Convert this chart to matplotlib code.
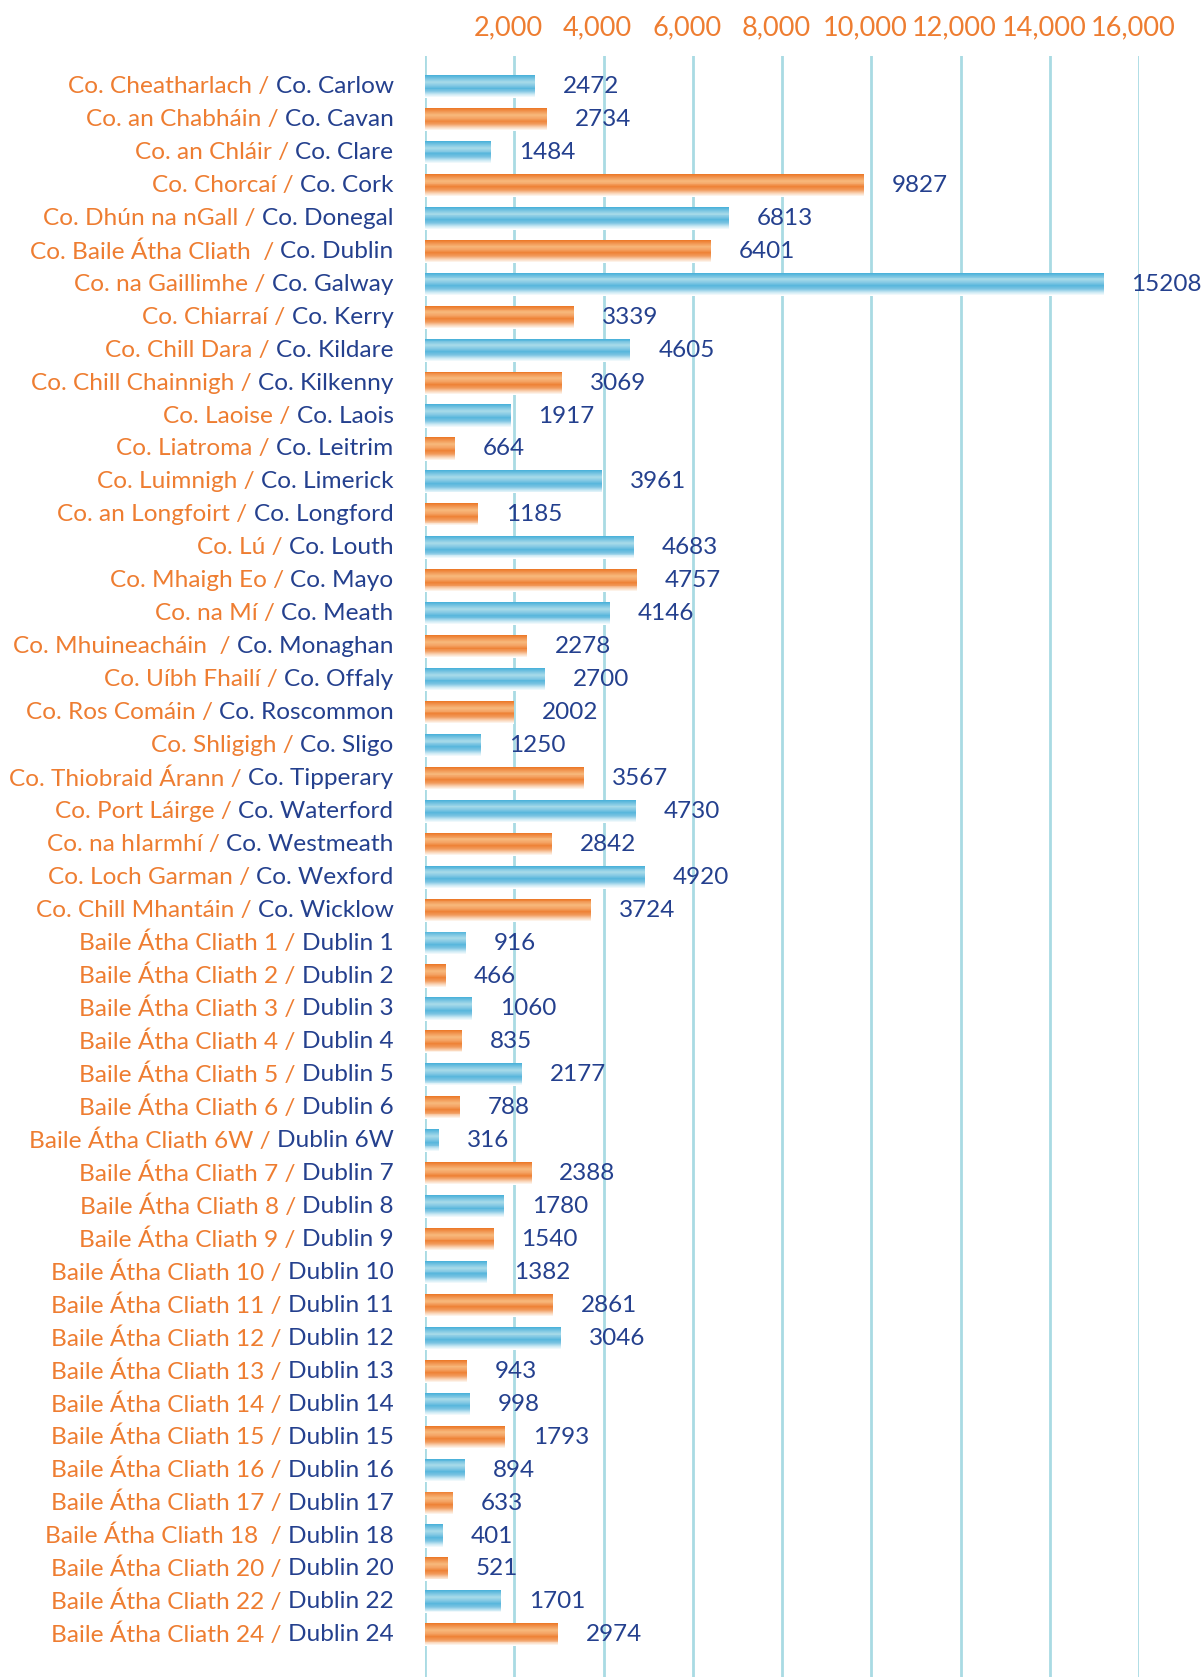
import matplotlib
matplotlib.use("Agg")
import matplotlib.pyplot as plt
import matplotlib.transforms as mtransforms
import numpy as np
from matplotlib.colors import to_rgb

plt.rcParams['font.family'] = ['Lato', 'DejaVu Sans']

irish = ["Co. Cheatharlach", "Co. an Chabháin", "Co. an Chláir", "Co. Chorcaí",
         "Co. Dhún na nGall", "Co. Baile Átha Cliath ", "Co. na Gaillimhe", "Co. Chiarraí",
         "Co. Chill Dara", "Co. Chill Chainnigh", "Co. Laoise", "Co. Liatroma",
         "Co. Luimnigh", "Co. an Longfoirt", "Co. Lú", "Co. Mhaigh Eo", "Co. na Mí",
         "Co. Mhuineacháin ", "Co. Uíbh Fhailí", "Co. Ros Comáin", "Co. Shligigh",
         "Co. Thiobraid Árann", "Co. Port Láirge", "Co. na hIarmhí", "Co. Loch Garman",
         "Co. Chill Mhantáin",
         "Baile Átha Cliath 1", "Baile Átha Cliath 2", "Baile Átha Cliath 3",
         "Baile Átha Cliath 4", "Baile Átha Cliath 5", "Baile Átha Cliath 6",
         "Baile Átha Cliath 6W", "Baile Átha Cliath 7", "Baile Átha Cliath 8",
         "Baile Átha Cliath 9", "Baile Átha Cliath 10", "Baile Átha Cliath 11",
         "Baile Átha Cliath 12", "Baile Átha Cliath 13", "Baile Átha Cliath 14",
         "Baile Átha Cliath 15", "Baile Átha Cliath 16", "Baile Átha Cliath 17",
         "Baile Átha Cliath 18 ", "Baile Átha Cliath 20", "Baile Átha Cliath 22",
         "Baile Átha Cliath 24"]
english = ["Co. Carlow", "Co. Cavan", "Co. Clare", "Co. Cork", "Co. Donegal", "Co. Dublin",
           "Co. Galway", "Co. Kerry", "Co. Kildare", "Co. Kilkenny", "Co. Laois", "Co. Leitrim",
           "Co. Limerick", "Co. Longford", "Co. Louth", "Co. Mayo", "Co. Meath", "Co. Monaghan",
           "Co. Offaly", "Co. Roscommon", "Co. Sligo", "Co. Tipperary", "Co. Waterford",
           "Co. Westmeath", "Co. Wexford", "Co. Wicklow",
           "Dublin 1", "Dublin 2", "Dublin 3", "Dublin 4", "Dublin 5", "Dublin 6", "Dublin 6W",
           "Dublin 7", "Dublin 8", "Dublin 9", "Dublin 10", "Dublin 11", "Dublin 12",
           "Dublin 13", "Dublin 14", "Dublin 15", "Dublin 16", "Dublin 17", "Dublin 18",
           "Dublin 20", "Dublin 22", "Dublin 24"]
values = [2472, 2734, 1484, 9827, 6813, 6401, 15208, 3339, 4605, 3069, 1917, 664,
          3961, 1185, 4683, 4757, 4146, 2278, 2700, 2002, 1250, 3567, 4730, 2842,
          4920, 3724,
          916, 466, 1060, 835, 2177, 788, 316, 2388, 1780, 1540, 1382, 2861, 3046,
          943, 998, 1793, 894, 633, 401, 521, 1701, 2974]
tick_vals = [0, 2000, 4000, 6000, 8000, 10000, 12000, 14000, 16000]
tick_labels = ["", "2,000", "4,000", "6,000", "8,000", "10,000", "12,000", "14,000", "16,000"]

orange = "#ee7d31"
navy = "#24408e"
grid_col = "#a9dbe3"

# gradient stops (top -> bottom) for the "tube" look
blue_stops = ["#4cb2da", "#7cc6e2", "#a9dbe9", "#86cae4", "#58b6dc", "#7cc4e2", "#c9e8f3", "#ffffff"]
orange_stops = ["#ec7a2a", "#f29a57", "#f7b97c", "#f4a465", "#ee8236", "#f19a5c", "#f9d3b5", "#ffffff"]


def ramp(stops, n):
    pts = np.array([to_rgb(c) for c in stops])
    t = np.linspace(0, 1, len(stops))
    s = np.linspace(0, 1, n)
    return [tuple(np.interp(v, t, pts[:, k]) for k in range(3)) for v in s]


fig = plt.figure(figsize=(12.01, 16.77), dpi=100)
ax = fig.add_axes([425 / 1201, 0, 714 / 1201, 1 - 56 / 1677])

y = np.arange(len(values))
vals = np.array(values)
blue_idx = y % 2 == 0
h = 0.7
n = 24
for colset, mask in ((ramp(blue_stops, n), blue_idx), (ramp(orange_stops, n), ~blue_idx)):
    for k, c in enumerate(colset):
        off = -h / 2 + (k + 0.5) * h / n
        ax.barh(y[mask] + off, vals[mask], height=h / n * 1.05, color=c, linewidth=0, zorder=3)

for yi, v in zip(y, values):
    ax.annotate(str(v), xy=(v, yi), xytext=(20, 0), textcoords='offset points',
                ha='left', va='center', fontsize=17.5, color=navy, annotation_clip=False)

# two-colour category labels
for yi, ga, en in zip(y, irish, english):
    t = ax.text(-0.044, yi, en, transform=ax.get_yaxis_transform(), ha='right',
                va='center', fontsize=17.6, color=navy)
    ax.annotate(ga + " / ", xy=(0, 0.5), xycoords=t, ha='right', va='center',
                fontsize=17.6, color=orange)

ax.set_xlim(0, 16000)
ax.set_ylim(len(values) - 1 + 1.28, -0.93)
ax.xaxis.tick_top()
ax.set_xticks(tick_vals)
ax.set_xticklabels(tick_labels, fontsize=19.5, color=orange)
ax.tick_params(axis='x', length=0, pad=11)
shift = mtransforms.ScaledTranslation(-6 / 100, 0, fig.dpi_scale_trans)
for lab in ax.get_xticklabels():
    lab.set_transform(lab.get_transform() + shift)
ax.set_yticks([])
ax.grid(axis='x', color=grid_col, linewidth=2, zorder=0)
for s in ax.spines.values():
    s.set_visible(False)

fig.savefig("out.png", dpi=100)
